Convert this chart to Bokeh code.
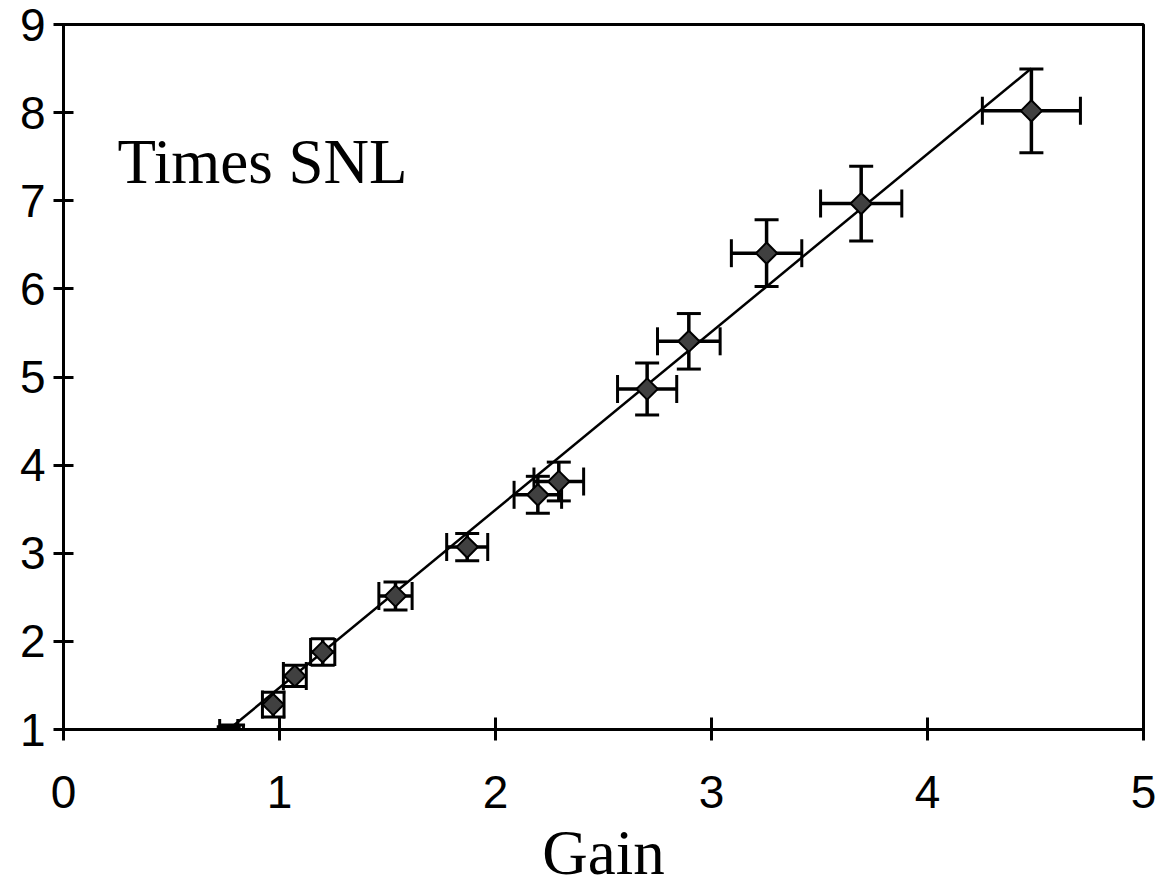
import numpy as np
from bokeh.plotting import figure
from bokeh.models import (Range1d, FixedTicker, ColumnDataSource, Whisker, TeeHead,
                          Label, CDSView, BooleanFilter)
from bokeh.embed import file_html
from bokeh.resources import INLINE

# ---- data ----
gain = [0.765, 0.785, 0.971, 1.071, 1.200, 1.537, 1.869, 2.196, 2.293, 2.702, 2.895, 3.255, 3.693, 4.481]
times_snl = [0.96, 0.90, 1.283, 1.608, 1.880, 2.515, 3.070, 3.663, 3.814, 4.864, 5.405, 6.405, 6.968, 8.020]
gain_err = [0.042, 0.048, 0.050, 0.053, 0.056, 0.077, 0.095, 0.110, 0.115, 0.137, 0.145, 0.163, 0.188, 0.227]
snl_err = [0.07, 0.15, 0.14, 0.12, 0.15, 0.16, 0.155, 0.21, 0.22, 0.295, 0.315, 0.378, 0.424, 0.475]

trend_gain = [0.765, 4.48]
trend_snl = [1.00, 8.50]

x_ticks = [0, 1, 2, 3, 4, 5]
y_ticks = [1, 2, 3, 4, 5, 6, 7, 8, 9]
x_title = "Gain"
panel_text = "Times SNL"

# ---- layout ----
W, H = 1158, 890
BL, BR, BT, BB = 63, 15, 24, 159
x_min, x_max = 0, 5
y_min, y_max = 1, 9

p = figure(width=W, height=H, output_backend="svg", toolbar_location=None,
           x_range=Range1d(x_min, x_max), y_range=Range1d(y_min, y_max),
           min_border_left=BL, min_border_right=BR, min_border_top=BT, min_border_bottom=BB,
           background_fill_color="white", border_fill_color="white")
p.outline_line_color = "black"
p.outline_line_width = 3
p.xgrid.visible = False
p.ygrid.visible = False

for ax, ticks in ((p.xaxis[0], x_ticks), (p.yaxis[0], y_ticks)):
    ax.ticker = FixedTicker(ticks=ticks)
    ax.minor_tick_line_color = None
    ax.axis_line_width = 3
    ax.axis_line_color = "black"
    ax.major_tick_line_width = 3
    ax.major_tick_line_color = "black"
    ax.major_label_text_font = "Liberation Sans"
    ax.major_label_text_font_size = "46px"
    ax.major_label_text_color = "black"

p.xaxis.major_tick_in = 12
p.xaxis.major_tick_out = 11
p.xaxis.major_label_standoff = 35
p.yaxis.major_tick_in = 10
p.yaxis.major_tick_out = 10
p.yaxis.major_label_standoff = 8

p.xaxis.axis_label = x_title
p.xaxis.axis_label_text_font = "Liberation Serif"
p.xaxis.axis_label_text_font_size = "63px"
p.xaxis.axis_label_text_font_style = "normal"
p.xaxis.axis_label_text_color = "black"
p.xaxis.axis_label_standoff = 7

src = ColumnDataSource(dict(
    x=gain, y=times_snl,
    xlo=[a - e for a, e in zip(gain, gain_err)], xhi=[a + e for a, e in zip(gain, gain_err)],
    ylo=[a - e for a, e in zip(times_snl, snl_err)], yhi=[a + e for a, e in zip(times_snl, snl_err)],
))

# trend line
p.line(trend_gain, trend_snl, line_color="black", line_width=2.5)

# error bars
vw = Whisker(base="x", upper="yhi", lower="ylo", dimension="height", source=src,
             line_color="black", line_width=3.5,
             upper_head=TeeHead(size=24, line_width=3, line_color="black"),
             lower_head=TeeHead(size=24, line_width=3, line_color="black"))
hw = Whisker(base="y", upper="xhi", lower="xlo", dimension="width", source=src,
             line_color="black", line_width=3.5,
             upper_head=TeeHead(size=28, line_width=3, line_color="black"),
             lower_head=TeeHead(size=28, line_width=3, line_color="black"))
p.add_layout(vw)
p.add_layout(hw)

# markers (only those inside the axis range are shown, as in the reference)
mask = [y >= y_min for y in times_snl]
view = CDSView(filter=BooleanFilter(mask))
p.scatter("x", "y", source=src, view=view, marker="square", angle=np.pi / 4, size=15,
          fill_color="#404040", line_color="black", line_width=2)

# panel text
p.add_layout(Label(x=0.25, y=7.44, text=panel_text, text_font="Liberation Serif",
                   text_font_size="63px", text_color="black", text_baseline="alphabetic"))

open("out.html", "w").write(file_html(p, INLINE))
